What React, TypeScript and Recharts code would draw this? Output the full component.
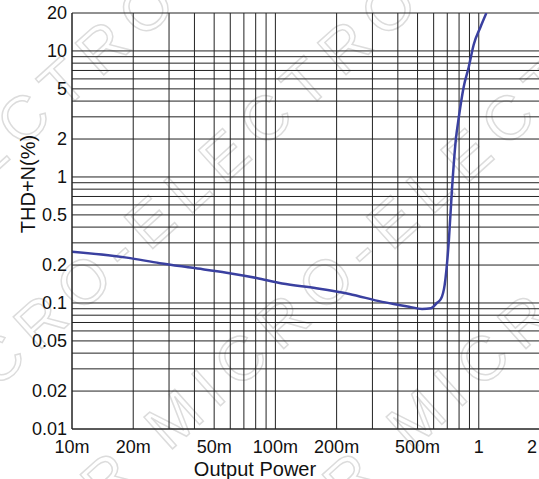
import React from "react";
import { LineChart, Line, XAxis, YAxis, CartesianGrid, Label } from "recharts";

// output power (W) and THD+N (%)
const power = [0.01, 0.0186, 0.027, 0.0392, 0.0575, 0.0807, 0.108, 0.159, 0.231, 0.335, 0.454, 0.526, 0.582, 0.622, 0.652, 0.68, 0.713, 0.738, 0.771, 0.798, 0.843, 0.893, 0.944, 1.02, 1.09];
const thd = [0.255, 0.229, 0.207, 0.19, 0.174, 0.158, 0.143, 0.131, 0.118, 0.102, 0.0935, 0.0895, 0.0908, 0.1, 0.108, 0.14, 0.316, 0.789, 1.97, 2.99, 5.18, 7.46, 11.2, 15.5, 20];

const powerTicks = [0.01, 0.02, 0.05, 0.1, 0.2, 0.5, 1, 2];
const powerLabels = ["10m", "20m", "50m", "100m", "200m", "500m", "1", "2"];
const thdTicks = [0.01, 0.02, 0.05, 0.1, 0.2, 0.5, 1, 2, 5, 10, 20];
const thdLabels = ["0.01", "0.02", "0.05", "0.1", "0.2", "0.5", "1", "2", "5", "10", "20"];

const powerGrid = [0.01, 0.02, 0.03, 0.04, 0.05, 0.06, 0.07, 0.08, 0.09, 0.1, 0.2, 0.3, 0.4, 0.5, 0.6, 0.7, 0.8, 0.9, 1, 2];
const thdGrid = [0.01, 0.02, 0.03, 0.04, 0.05, 0.06, 0.07, 0.08, 0.09, 0.1, 0.2, 0.3, 0.4, 0.5, 0.6, 0.7, 0.8, 0.9, 1, 2, 3, 4, 5, 6, 7, 8, 9, 10, 20];

const watermark = "STAR MICRO-ELECTRONICS";

const data = power.map((p, i) => ({ p, thd: thd[i] }));

const FONT = "'Liberation Sans', Arial, sans-serif";

function XTick(props: any) {
  const { x, y, payload } = props;
  const i = powerTicks.indexOf(payload.value);
  const last = i === powerTicks.length - 1;
  return (
    <text
      x={last ? x - 3 : x}
      y={y}
      dy="0.71em"
      textAnchor={last ? "end" : "middle"}
      fill="#111"
      fontSize={18}
      fontFamily={FONT}
    >
      {powerLabels[i]}
    </text>
  );
}

function Watermark() {
  const rows = [-260, -80, 100, 280];
  return (
    <svg width={539} height={479} style={{ position: "absolute", left: 0, top: 0 }}>
      {rows.map((off, k) => (
        <text
          key={k}
          x={270 + off}
          y={240}
          transform={`rotate(-42 270 240) translate(0 ${off * 0.9})`}
          textAnchor="middle"
          fill="none"
          stroke="#dcdcdc"
          strokeWidth={1.5}
          fontSize={62}
          letterSpacing={12}
          fontFamily={FONT}
        >
          {watermark}
        </text>
      ))}
    </svg>
  );
}

export default function App() {
  return (
    <div style={{ position: "fixed", left: 0, top: 0, width: 539, height: 479, overflow: "hidden", background: "#fff" }}>
      <Watermark />
      <div style={{ position: "absolute", left: 0, top: 0 }}>
        <LineChart width={548} height={479} data={data} margin={{ top: 13, right: 8, bottom: 0, left: 0 }}>
          <CartesianGrid
            stroke="#222"
            strokeWidth={1}
            horizontalValues={thdGrid}
            verticalValues={powerGrid}
          />
          <XAxis
            dataKey="p"
            type="number"
            scale="log"
            domain={[0.01, 2]}
            allowDataOverflow
            ticks={powerTicks}
            tick={<XTick />}
            tickLine={false}
            tickSize={0}
            tickMargin={11}
            height={50}
            axisLine={{ stroke: "#222" }}
            interval={0}
          >
            <Label
              content={() => (
                <text x={255} y={476} textAnchor="middle" fill="#111" fontSize={20} fontFamily={FONT}>
                  Output Power
                </text>
              )}
            />
          </XAxis>
          <YAxis
            type="number"
            scale="log"
            domain={[0.01, 20]}
            allowDataOverflow
            ticks={thdTicks}
            tickFormatter={(v: number) => thdLabels[thdTicks.indexOf(v)] ?? String(v)}
            tick={{ fill: "#111", fontSize: 18, fontFamily: FONT }}
            tickLine={false}
            tickSize={0}
            tickMargin={5}
            width={72}
            axisLine={{ stroke: "#222" }}
            interval={0}
          >
            <Label
              content={() => (
                <text
                  x={35}
                  y={184}
                  transform="rotate(-90 35 184)"
                  textAnchor="middle"
                  fill="#111"
                  fontSize={20}
                  fontFamily={FONT}
                >
                  THD+N(%)
                </text>
              )}
            />
          </YAxis>
          <Line
            dataKey="thd"
            type="monotone"
            stroke="#3a40a0"
            strokeWidth={2.5}
            dot={false}
            isAnimationActive={false}
          />
        </LineChart>
      </div>
    </div>
  );
}
